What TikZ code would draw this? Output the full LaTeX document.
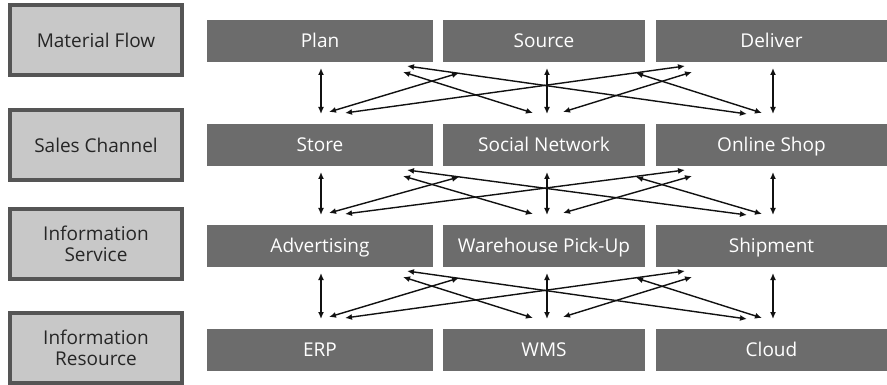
\documentclass[tikz,border=0pt]{standalone}
\usepackage{fontspec}
\setmainfont{Open Sans}
\usetikzlibrary{arrows.meta,calc}
\definecolor{leftfill}{HTML}{C8C8C8}
\definecolor{leftdraw}{HTML}{555555}
\definecolor{darkfill}{HTML}{6C6C6C}
\definecolor{lefttext}{HTML}{262626}
\definecolor{arrowcol}{HTML}{111111}
\tikzset{
  catbox/.style={draw=leftdraw,fill=leftfill,line width=4pt,minimum width=172pt,minimum height=70pt,
    inner sep=0pt,outer sep=0pt,align=center,text=lefttext,font=\fontsize{19}{23}\selectfont},
  itembox/.style={fill=darkfill,minimum height=42pt,inner sep=0pt,outer sep=0pt,text=white,
    text height=13.6pt,text depth=0pt,font=\fontsize{19}{23}\selectfont},
  biarrow/.style={draw=arrowcol,line width=1.4pt,{Latex[length=7pt,width=6pt]}-{Latex[length=7pt,width=6pt]}}
}
\newcommand{\gaparrows}[6]{%
  % #1,#2,#3 upper nodes; #4,#5,#6 lower nodes
  \draw[biarrow] ($(#1.south)+(1,6)$) -- ($(#4.north)+(1,-10)$);
  \draw[biarrow] ($(#2.south)+(3,6)$) -- ($(#5.north)+(3,-10)$);
  \draw[biarrow] ($(#3.south)+(1.5,6)$) -- ($(#6.north)+(1.5,-10)$);
  \draw[biarrow] ($(#1.south)+(87,4)$) -- ($(#6.north)+(-24.5,-10)$);
  \draw[biarrow] ($(#1.south)+(83,10)$) -- ($(#5.north)+(-11,-11)$);
  \draw[biarrow] ($(#2.south)+(-85,11)$) -- ($(#4.north)+(9,-12)$);
  \draw[biarrow] ($(#2.south)+(92,11)$) -- ($(#6.north)+(-9.5,-11)$);
  \draw[biarrow] ($(#3.south)+(-86.5,4)$) -- ($(#4.north)+(25,-11)$);
  \draw[biarrow] ($(#3.south)+(-79.5,10)$) -- ($(#5.north)+(19,-12)$);
}
\begin{document}
\begin{tikzpicture}[x=1pt,y=-1pt]
\useasboundingbox (0,0) rectangle (887,385);
% left category boxes
\node[catbox] (mf) at (96,40) {Material Flow};
\node[catbox] (sc) at (96,145) {Sales Channel};
\node[catbox] (is) at (96,244) {Information\\[-2pt]Service};
\node[catbox] (ir) at (96,348) {Information\\[-2pt]Resource};
% row 1
\node[itembox,minimum width=226pt] (p1) at (320,41) {Plan};
\node[itembox,minimum width=202pt] (p2) at (544,41) {Source};
\node[itembox,minimum width=231pt] (p3) at (771.5,41) {Deliver};
% row 2
\node[itembox,minimum width=226pt] (s1) at (320,145) {Store};
\node[itembox,minimum width=202pt] (s2) at (544,145) {Social Network};
\node[itembox,minimum width=231pt] (s3) at (771.5,145) {Online Shop};
% row 3
\node[itembox,minimum width=226pt] (v1) at (320,246) {Advertising};
\node[itembox,minimum width=202pt] (v2) at (544,246) {Warehouse Pick-Up};
\node[itembox,minimum width=231pt] (v3) at (771.5,246) {Shipment};
% row 4
\node[itembox,minimum width=226pt] (r1) at (320,350) {ERP};
\node[itembox,minimum width=202pt] (r2) at (544,350) {WMS};
\node[itembox,minimum width=231pt] (r3) at (771.5,350) {Cloud};
% connectors
\gaparrows{p1}{p2}{p3}{s1}{s2}{s3}
\gaparrows{s1}{s2}{s3}{v1}{v2}{v3}
\gaparrows{v1}{v2}{v3}{r1}{r2}{r3}
\end{tikzpicture}
\end{document}
